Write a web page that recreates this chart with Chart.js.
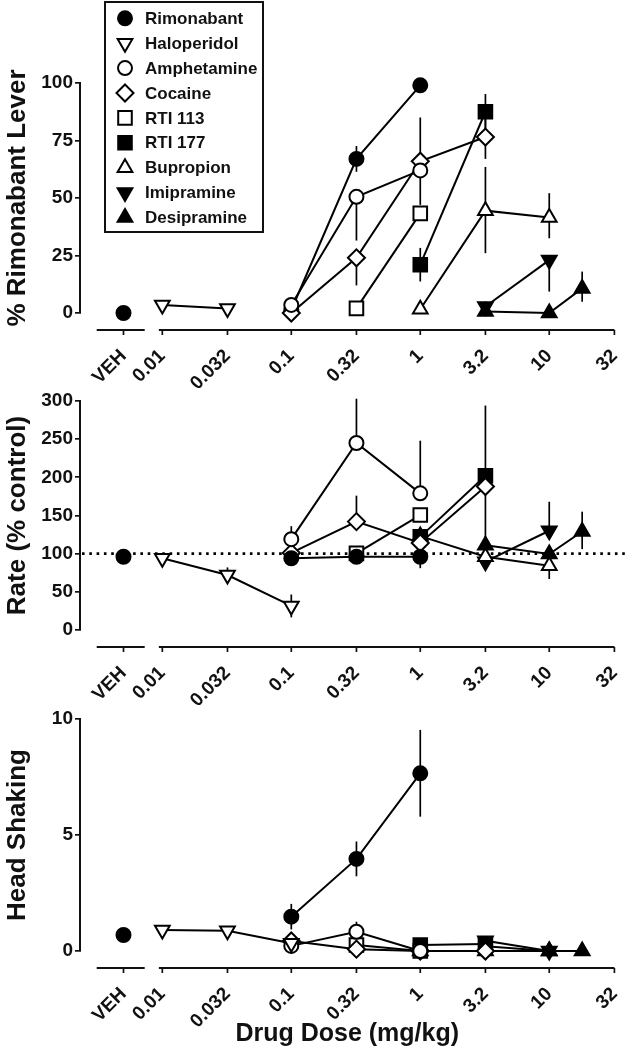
<!DOCTYPE html>
<html>
<head>
<meta charset="utf-8">
<script src="https://cdn.jsdelivr.net/npm/chart.js@4.4.1/dist/chart.umd.min.js"></script>
<style>
  html, body { margin: 0; padding: 0; background: #fff; }
  #wrap { position: relative; width: 626px; height: 1050px; overflow: hidden; background: #fff; }
  canvas { position: absolute; left: 0; }
</style>
</head>
<body>
<div id="wrap">
  <canvas id="c1" width="626" height="388" style="top:0px"></canvas>
  <canvas id="c2" width="626" height="317" style="top:388px"></canvas>
  <canvas id="c3" width="626" height="345" style="top:705px"></canvas>
</div>
<script>
// ---------------- DATA ----------------
const VEH = 0.005; // plotting position of the vehicle point on the dose axis
const xTickValues = [VEH, 0.01, 0.032, 0.1, 0.32, 1, 3.2, 10, 32];
const xTickLabels = ['VEH', '0.01', '0.032', '0.1', '0.32', '1', '3.2', '10', '32'];

const drugNames = ['Rimonabant', 'Haloperidol', 'Amphetamine', 'Cocaine', 'RTI 113',
                   'RTI 177', 'Bupropion', 'Imipramine', 'Desipramine'];

// doses (mg/kg)
const rimoDose   = [VEH, 0.1, 0.32, 1];
const haloDose   = [0.01, 0.032, 0.1];
const amphDose   = [0.1, 0.32, 1];
const cocDose    = [0.1, 0.32, 1, 3.2];
const rti113Dose = [0.32, 1];
const rti177Dose = [1, 3.2];
const bupDose    = [1, 3.2, 10];
const imiDose    = [3.2, 10];
const desiDose   = [3.2, 10, 18];

// Panel A: % Rimonabant Lever
const leverRimo   = [0, 1.3, 67, 99];
const leverHalo   = [3.5, 2, null];
const leverAmph   = [3.5, 50.5, 62];
const leverCoc    = [0, 24, 66, 76.5];
const leverRti113 = [2, 43.3];
const leverRti177 = [21, 87.5];
const leverBup    = [1.6, 44.5, 41.5];
const leverImi    = [2.8, 23];
const leverDesi   = [0.6, 0, 10.7];
// error bars [below, above]
const leverRimoErr   = [[0,0],[0,0],[5.6,5.6],[0,0]];
const leverHaloErr   = [[0,0],[0,0],[0,0]];
const leverAmphErr   = [[0,0],[19,0],[0,0]];
const leverCocErr    = [[0,0],[12,0],[19,19],[9.5,9.5]];
const leverRti113Err = [[0,0],[0,0]];
const leverRti177Err = [[7.3,7.3],[8,7.7]];
const leverBupErr    = [[0,0],[18.5,19],[9,10.6]];
const leverImiErr    = [[0,0],[13.7,0]];
const leverDesiErr   = [[0,0],[0,0],[5.8,7.3]];

// Panel B: Rate (% control)
const rateRimo   = [96, 94, 96, 96];
const rateHalo   = [94, 72, 31.5];
const rateAmph   = [119, 245, 179];
const rateCoc    = [101, 142, 114, 188];
const rateRti113 = [100.4, 150.6];
const rateRti177 = [122, 202];
const rateBup    = [123, 96, 84.3];
const rateImi    = [89.5, 130];
const rateDesi   = [111, 99.6, 129];
const rateRimoErr   = [[0,0],[0,0],[0,0],[15,15]];
const rateHaloErr   = [[0,0],[10,10],[15,15]];
const rateAmphErr   = [[0,17],[0,58],[0,69]];
const rateCocErr    = [[0,0],[0,34],[0,0],[0,0]];
const rateRti113Err = [[0,0],[0,0]];
const rateRti177Err = [[0,0],[92,92]];
const rateBupErr    = [[0,0],[0,0],[17.5,0]];
const rateImiErr    = [[8,0],[0,38]];
const rateDesiErr   = [[0,0],[0,0],[23,26]];

// Panel C: Head Shaking
const headRimo   = [0.69, 1.48, 3.97, 7.66];
const headHalo   = [0.9, 0.87, 0.33];
const headAmph   = [0.22, 0.83, 0];
const headCoc    = [0.43, 0.08, 0, 0];
const headRti113 = [0.26, 0];
const headRti177 = [0.26, 0.3];
const headBup    = [0, 0, 0];
const headImi    = [0.44, 0];
const headDesi   = [0.2, 0, 0];
const headRimoErr   = [[0,0],[0.55,0.55],[0.75,0.75],[1.87,1.87]];
const headHaloErr   = [[0,0],[0,0],[0,0]];
const headAmphErr   = [[0,0],[0,0.43],[0,0]];
const headCocErr    = [[0,0],[0,0],[0,0],[0,0]];
const headRti113Err = [[0,0],[0,0]];
const headRti177Err = [[0,0],[0,0]];
const headBupErr    = [[0,0],[0,0],[0,0]];
const headImiErr    = [[0,0],[0,0]];
const headDesiErr   = [[0,0],[0,0],[0,0]];

// ---------------- STYLE ----------------
const FONT = "'Liberation Sans', Arial, Helvetica, sans-serif";
const INK = '#111';
Chart.defaults.font.family = FONT;
Chart.defaults.font.weight = 'bold';
Chart.defaults.color = INK;

const LW = 2;
const markerStyles = [
  { pointStyle: 'circle',   rotation: 0,   radius: 7,   fill: '#000' },
  { pointStyle: 'triangle', rotation: 180, radius: 8.5, fill: '#fff' },
  { pointStyle: 'circle',   rotation: 0,   radius: 7,   fill: '#fff' },
  { pointStyle: 'rectRot',  rotation: 0,   radius: 8.5, fill: '#fff' },
  { pointStyle: 'rect',     rotation: 0,   radius: 9.6, fill: '#fff' },
  { pointStyle: 'rect',     rotation: 0,   radius: 9.6, fill: '#000' },
  { pointStyle: 'triangle', rotation: 0,   radius: 8.5, fill: '#fff' },
  { pointStyle: 'triangle', rotation: 180, radius: 8.5, fill: '#000' },
  { pointStyle: 'triangle', rotation: 0,   radius: 8.5, fill: '#000' }
];

const doseSets = [rimoDose, haloDose, amphDose, cocDose, rti113Dose, rti177Dose, bupDose, imiDose, desiDose];

function buildDatasets(valueSets, errSets, orders) {
  return drugNames.map((name, i) => {
    const st = markerStyles[i];
    return {
      label: name,
      order: orders ? orders[i] : 0,
      data: doseSets[i].map((d, j) => ({ x: d, y: valueSets[i][j] })),
      errBars: errSets[i],
      borderColor: '#000',
      borderWidth: LW,
      backgroundColor: st.fill,
      pointStyle: st.pointStyle,
      pointRotation: st.rotation,
      pointRadius: st.radius,
      pointHoverRadius: st.radius,
      pointBackgroundColor: st.fill,
      pointBorderColor: '#000',
      pointBorderWidth: LW,
      fill: false,
      tension: 0,
      spanGaps: false,
      clip: false,
      segment: {
        borderColor: c => (c.p0.parsed.x === VEH ? 'rgba(0,0,0,0)' : '#000')
      }
    };
  });
}

// ---------------- PLUGINS ----------------
const errorBarPlugin = {
  id: 'errorBars',
  beforeDatasetsDraw(chart) {
    const { ctx, scales: { x, y } } = chart;
    ctx.save();
    ctx.strokeStyle = '#000';
    ctx.lineWidth = 1.7;
    chart.data.datasets.forEach(ds => {
      (ds.errBars || []).forEach((e, j) => {
        const p = ds.data[j];
        if (!p || p.y === null || p.y === undefined) return;
        if (!e[0] && !e[1]) return;
        const px = x.getPixelForValue(p.x);
        ctx.beginPath();
        ctx.moveTo(px, y.getPixelForValue(p.y - e[0]));
        ctx.lineTo(px, y.getPixelForValue(p.y + e[1]));
        ctx.stroke();
      });
    });
    ctx.restore();
  }
};

const brokenAxisPlugin = {
  id: 'brokenAxis',
  afterDraw(chart, args, opts) {
    const { ctx, chartArea, scales: { x } } = chart;
    const yAx = chartArea.bottom + opts.offset;
    ctx.save();
    ctx.strokeStyle = INK;
    ctx.lineWidth = 2;
    ctx.beginPath();
    opts.segments.forEach(seg => {
      ctx.moveTo(x.getPixelForValue(seg[0]), yAx);
      ctx.lineTo(x.getPixelForValue(seg[1]), yAx);
    });
    ctx.stroke();
    ctx.lineWidth = 1.7;
    x.ticks.forEach(t => {
      const px = x.getPixelForValue(t.value);
      ctx.beginPath();
      ctx.moveTo(px, yAx);
      ctx.lineTo(px, yAx + 5);
      ctx.stroke();
    });
    ctx.restore();
  }
};

const refLinePlugin = {
  id: 'refLine',
  beforeDatasetsDraw(chart, args, opts) {
    if (opts.value === undefined || opts.value === null) return;
    const { ctx, chartArea, scales: { y } } = chart;
    const py = y.getPixelForValue(opts.value);
    ctx.save();
    ctx.strokeStyle = '#000';
    ctx.lineWidth = 2.6;
    ctx.setLineDash([2.6, 4.7]);
    ctx.beginPath();
    ctx.moveTo(chartArea.left + 2, py);
    ctx.lineTo(chart.width, py);
    ctx.stroke();
    ctx.restore();
  }
};

function drawMarker(ctx, st, x, y) {
  ctx.fillStyle = st.fill;
  ctx.strokeStyle = '#000';
  ctx.lineWidth = LW;
  if (Chart.helpers && Chart.helpers.drawPoint) {
    Chart.helpers.drawPoint(ctx, { pointStyle: st.pointStyle, rotation: st.rotation, radius: st.radius, borderWidth: LW }, x, y);
    return;
  }
  ctx.beginPath();
  const r = st.radius;
  if (st.pointStyle === 'circle') ctx.arc(x, y, r, 0, Math.PI * 2);
  else if (st.pointStyle === 'rect') { const s = r * Math.SQRT1_2; ctx.rect(x - s, y - s, 2 * s, 2 * s); }
  else if (st.pointStyle === 'rectRot') { ctx.moveTo(x - r, y); ctx.lineTo(x, y - r); ctx.lineTo(x + r, y); ctx.lineTo(x, y + r); ctx.closePath(); }
  else {
    let a = st.rotation * Math.PI / 180;
    for (let k = 0; k < 3; k++) {
      const px = x + Math.sin(a) * r, py = y - Math.cos(a) * r;
      if (k === 0) ctx.moveTo(px, py); else ctx.lineTo(px, py);
      a += 2 * Math.PI / 3;
    }
    ctx.closePath();
  }
  ctx.fill();
  ctx.stroke();
}

const boxLegendPlugin = {
  id: 'boxLegend',
  afterDraw(chart, args, opts) {
    if (!opts.show) return;
    const ctx = chart.ctx;
    ctx.save();
    ctx.strokeStyle = INK;
    ctx.lineWidth = 2;
    ctx.strokeRect(opts.left, opts.top, opts.width, opts.height);
    ctx.font = 'bold 17px ' + FONT;
    ctx.textBaseline = 'middle';
    ctx.textAlign = 'left';
    chart.data.datasets.forEach((ds, i) => {
      const yy = opts.firstY + i * opts.rowH;
      drawMarker(ctx, markerStyles[i], opts.markerX, yy);
      ctx.fillStyle = INK;
      ctx.fillText(ds.label, opts.textX, yy + 1);
    });
    ctx.restore();
  }
};

// ---------------- CHARTS ----------------
function makeChart(id, datasets, cfg) {
  return new Chart(document.getElementById(id), {
    type: 'line',
    data: { datasets },
    plugins: [errorBarPlugin, refLinePlugin, brokenAxisPlugin, boxLegendPlugin],
    options: {
      responsive: false,
      animation: false,
      devicePixelRatio: 1,
      layout: { padding: { left: 0, right: 7.3, top: cfg.padTop, bottom: 0 } },
      plugins: {
        legend: { display: false },
        tooltip: { enabled: false },
        refLine: { value: cfg.refLine },
        brokenAxis: { offset: 17, segments: [[0.0031, 0.0073], [0.0094, 32]] },
        boxLegend: cfg.legend || { show: false }
      },
      scales: {
        x: {
          type: 'logarithmic',
          min: 0.0023,
          max: 32,
          grid: { display: false },
          border: { display: false },
          afterBuildTicks: s => { s.ticks = xTickValues.map(v => ({ value: v })); },
          afterFit: s => { s.height = cfg.xHeight; s.paddingLeft = 0; s.paddingRight = 0; },
          ticks: {
            autoSkip: false,
            minRotation: 45,
            maxRotation: 45,
            padding: 24,
            color: INK,
            font: { size: 19, weight: 'bold' },
            callback: (v, i) => xTickLabels[i]
          },
          title: {
            display: !!cfg.xTitle,
            text: cfg.xTitle || '',
            color: INK,
            font: { size: 25, weight: 'bold' },
            padding: { top: 0, bottom: 1 }
          }
        },
        y: {
          min: 0,
          max: cfg.yMax,
          grid: { drawOnChartArea: false, drawTicks: true, tickLength: 5, color: INK, lineWidth: 1.7 },
          border: { display: true, color: INK, width: 2 },
          afterFit: s => { s.width = 80; s.paddingTop = 0; s.paddingBottom = 0; },
          ticks: { stepSize: cfg.yStep, padding: 2, color: INK, font: { size: 19, weight: 'bold' } },
          title: {
            display: true,
            text: cfg.yTitle,
            color: INK,
            font: { size: 26, weight: 'bold' },
            padding: { top: 2, bottom: 0 }
          }
        }
      }
    }
  });
}

makeChart('c1',
  buildDatasets(
    [leverRimo, leverHalo, leverAmph, leverCoc, leverRti113, leverRti177, leverBup, leverImi, leverDesi],
    [leverRimoErr, leverHaloErr, leverAmphErr, leverCocErr, leverRti113Err, leverRti177Err, leverBupErr, leverImiErr, leverDesiErr],
    [1, 0, 0, 0, 0, 0, 0, 0, 0]),
  { padTop: 83, xHeight: 75, yMax: 100, yStep: 25, yTitle: '% Rimonabant Lever',
    legend: { show: true, left: 105, top: 2, width: 158, height: 230, firstY: 18.3, rowH: 24.9, markerX: 125, textX: 145 } });

makeChart('c2',
  buildDatasets(
    [rateRimo, rateHalo, rateAmph, rateCoc, rateRti113, rateRti177, rateBup, rateImi, rateDesi],
    [rateRimoErr, rateHaloErr, rateAmphErr, rateCocErr, rateRti113Err, rateRti177Err, rateBupErr, rateImiErr, rateDesiErr]),
  { padTop: 13, xHeight: 75, yMax: 300, yStep: 50, yTitle: 'Rate (% control)', refLine: 100 });

makeChart('c3',
  buildDatasets(
    [headRimo, headHalo, headAmph, headCoc, headRti113, headRti177, headBup, headImi, headDesi],
    [headRimoErr, headHaloErr, headAmphErr, headCocErr, headRti113Err, headRti177Err, headBupErr, headImiErr, headDesiErr],
    [0, 0, 0, 0, 0, 1, 1, 0, 0]),
  { padTop: 14, xHeight: 99, yMax: 10, yStep: 5, yTitle: 'Head Shaking', xTitle: 'Drug Dose (mg/kg)' });
</script>
</body>
</html>
